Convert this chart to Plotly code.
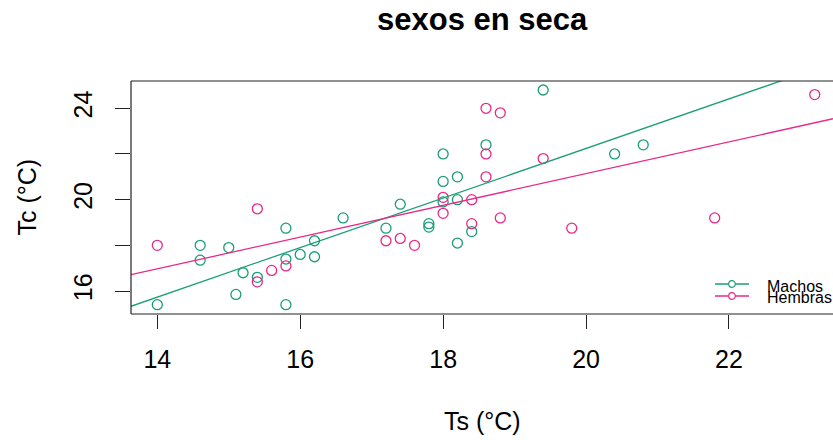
import numpy as np
import plotly.graph_objects as go

# Surface temperature (Ts) vs body temperature (Tc), dry season, by sex
machos_ts = [14.0, 14.6, 14.6, 15.0, 15.1, 15.2, 15.4, 15.8, 15.8, 15.8,
             16.0, 16.2, 16.2, 16.6, 17.2, 17.4, 17.8, 17.8, 18.0, 18.0,
             18.0, 18.2, 18.2, 18.2, 18.4, 18.6, 19.4, 20.4, 20.8]
machos_tc = [15.4, 18.0, 17.35, 17.9, 15.85, 16.8, 16.6, 18.75, 17.4, 15.4,
             17.6, 18.2, 17.5, 19.2, 18.75, 19.8, 18.95, 18.8, 22.0, 20.8,
             19.9, 21.0, 20.0, 18.1, 18.6, 22.4, 24.8, 22.0, 22.4]

hembras_ts = [14.0, 15.4, 15.4, 15.6, 15.8, 17.2, 17.4, 17.6, 18.0, 18.0,
              18.4, 18.4, 18.6, 18.8, 18.6, 18.6, 18.8, 19.4, 19.8, 21.8, 23.2]
hembras_tc = [18.0, 19.6, 16.4, 16.9, 17.1, 18.2, 18.3, 18.0, 20.1, 19.4,
              20.0, 18.95, 24.0, 23.8, 22.0, 21.0, 19.2, 21.8, 18.75, 19.2, 24.6]

series_names = ["Machos", "Hembras"]
x_ticks = [14, 16, 18, 20, 22]
x_tick_labels = ["14", "16", "18", "20", "22"]
y_ticks = [16, 18, 20, 22, 24]
y_tick_labels = ["16", "", "20", "", "24"]

GREEN = "#1B9E77"
PINK = "#E7298A"
FONT = "Liberation Sans, Arial, sans-serif"

# page geometry (pixels)
W, H = 833, 440
L, T, B, R = 131, 81, 126, 0
PW, PH = W - L - R, H - T - B
X_RANGE = [13.632, 23.456]
Y_RANGE = [14.993, 25.195]


def px_x(p):
    return (p - L) / PW


def px_y(p):
    return (H - B - p) / PH


fig = go.Figure()

groups = [(machos_ts, machos_tc, GREEN), (hembras_ts, hembras_tc, PINK)]
for (xs, ys, col), name in zip(groups, series_names):
    fig.add_trace(go.Scatter(
        x=xs, y=ys, mode="markers", name=name, showlegend=False,
        marker=dict(symbol="circle-open", size=10, color=col,
                    line=dict(width=1.3, color=col)),
    ))

# least-squares line for each sex, drawn across the full x range
for (xs, ys, col), name in zip(groups, series_names):
    slope, intercept = np.polyfit(np.array(xs), np.array(ys), 1)
    lx = np.array(X_RANGE)
    fig.add_trace(go.Scatter(
        x=lx, y=intercept + slope * lx, mode="lines", showlegend=False,
        line=dict(color=col, width=1.3), hoverinfo="skip",
    ))

shapes = [
    # box around the plotting region (open on the right where it is cut off)
    dict(type="line", xref="paper", yref="paper", x0=0, x1=1, y0=0, y1=0,
         line=dict(color="#222222", width=1.2)),
    dict(type="line", xref="paper", yref="paper", x0=0, x1=1, y0=1, y1=1,
         line=dict(color="#222222", width=1.2)),
    dict(type="line", xref="paper", yref="paper", x0=0, x1=0, y0=0, y1=1,
         line=dict(color="#222222", width=1.2)),
]

annotations = [
    dict(text="<b>sexos en seca</b>", xref="paper", yref="paper",
         x=0.5, y=px_y(19.5), xanchor="center", yanchor="middle",
         showarrow=False, font=dict(family=FONT, size=31, color="black")),
    dict(text="Ts (°C)", xref="paper", yref="paper",
         x=0.5, y=px_y(421), xanchor="center", yanchor="middle",
         showarrow=False, font=dict(family=FONT, size=25, color="black")),
    dict(text="Tc (°C)", xref="paper", yref="paper",
         x=px_x(26), y=0.5, xanchor="center", yanchor="middle", textangle=-90,
         showarrow=False, font=dict(family=FONT, size=25, color="black")),
]

# legend in the lower-right corner
legend_rows = [(GREEN, 284, 286), (PINK, 296, 297.5)]
for (col, ly, ty), name in zip(legend_rows, series_names):
    shapes.append(dict(type="line", xref="paper", yref="paper",
                       x0=px_x(715), x1=px_x(749), y0=px_y(ly), y1=px_y(ly),
                       line=dict(color=col, width=1.3)))
    shapes.append(dict(type="circle", xref="paper", yref="paper",
                       xsizemode="pixel", ysizemode="pixel",
                       xanchor=px_x(732), yanchor=px_y(ly),
                       x0=-3.3, x1=3.3, y0=-3.3, y1=3.3,
                       line=dict(color=col, width=1.2), fillcolor="white"))
    annotations.append(dict(text=name, xref="paper", yref="paper",
                            x=px_x(765), y=px_y(ty), xanchor="left", yanchor="middle",
                            showarrow=False,
                            font=dict(family=FONT, size=16, color="black")))

fig.update_layout(
    width=W, height=H,
    margin=dict(l=L, r=R, t=T, b=B),
    paper_bgcolor="white", plot_bgcolor="white",
    shapes=shapes, annotations=annotations,
    font=dict(family=FONT, color="black"),
)

fig.update_xaxes(
    range=X_RANGE, showgrid=False, zeroline=False, showline=False,
    tickmode="array", tickvals=x_ticks, ticktext=x_tick_labels,
    ticks="outside", ticklen=14, tickwidth=1.2, tickcolor="#222222",
    ticklabelstandoff=9, tickfont=dict(family=FONT, size=25, color="black"),
)
fig.update_yaxes(
    range=Y_RANGE, showgrid=False, zeroline=False, showline=False,
    tickmode="array", tickvals=y_ticks, ticktext=y_tick_labels,
    ticks="outside", ticklen=15, tickwidth=1.2, tickcolor="#222222",
    tickangle=-90, ticklabelstandoff=13,
    tickfont=dict(family=FONT, size=25, color="black"),
)

fig.write_html("out.html")
